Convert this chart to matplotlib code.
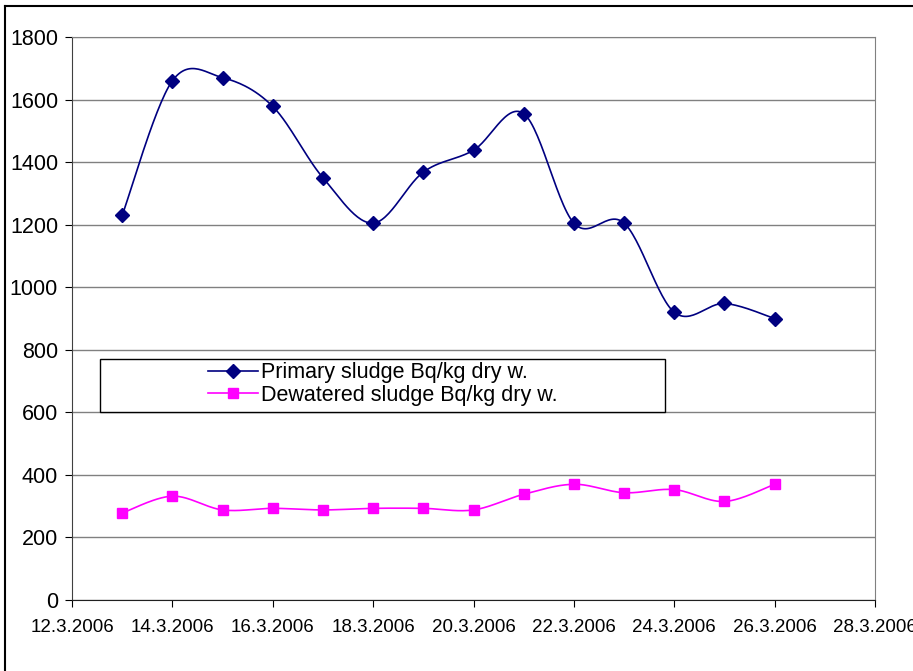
import matplotlib
matplotlib.use("Agg")
import matplotlib.pyplot as plt
import matplotlib.dates as mdates
import numpy as np
import pandas as pd
from matplotlib.lines import Line2D
from matplotlib.patches import Rectangle

plt.rcParams['font.family'] = ['Liberation Sans', 'DejaVu Sans']

dates = ['13.3.2006', '14.3.2006', '15.3.2006', '16.3.2006', '17.3.2006', '18.3.2006', '19.3.2006',
         '20.3.2006', '21.3.2006', '22.3.2006', '23.3.2006', '24.3.2006', '25.3.2006', '26.3.2006']
primary = [1230, 1660, 1670, 1578, 1350, 1205, 1368, 1438, 1555, 1205, 1205, 920, 948, 900]
dewatered = [278, 332, 288, 293, 288, 293, 293, 288, 338, 370, 343, 353, 315, 370]
tick_dates = ['12.3.2006', '14.3.2006', '16.3.2006', '18.3.2006', '20.3.2006',
              '22.3.2006', '24.3.2006', '26.3.2006', '28.3.2006']


def smooth(x, y, n=30):
    # excel style smoothed line (catmull-rom through the points)
    x = np.asarray(x, float)
    y = np.asarray(y, float)
    px = np.concatenate([[x[0]], x, [x[-1]]])
    py = np.concatenate([[y[0]], y, [y[-1]]])
    xs, ys = [], []
    t = np.linspace(0, 1, n)
    for i in range(1, len(px) - 2):
        for p, out in ((px, xs), (py, ys)):
            p0, p1, p2, p3 = p[i - 1], p[i], p[i + 1], p[i + 2]
            c1 = p1 + (p2 - p0) / 6
            c2 = p2 - (p3 - p1) / 6
            out.append((1 - t) ** 3 * p1 + 3 * (1 - t) ** 2 * t * c1 + 3 * (1 - t) * t ** 2 * c2 + t ** 3 * p2)
    return np.concatenate(xs), np.concatenate(ys)


x = mdates.date2num(pd.to_datetime(dates, format='%d.%m.%Y'))
ticks = mdates.date2num(pd.to_datetime(tick_dates, format='%d.%m.%Y'))

fig = plt.figure(figsize=(9.13, 6.71), dpi=100)
ax = fig.add_axes([72 / 913, 71 / 671, 803 / 913, 563 / 671])

sx, sy = smooth(x, primary)
ax.plot(sx, sy, color='#000080', lw=1.2)
ax.plot(x, primary, 'D', color='#000080', ms=7, ls='none')
sx, sy = smooth(x, dewatered)
ax.plot(sx, sy, color='#FF00FF', lw=1.2)
ax.plot(x, dewatered, 's', color='#FF00FF', ms=7, ls='none')

ax.set_xlim(ticks[0], ticks[-1])
ax.set_ylim(0, 1800)
ax.set_yticks(np.arange(0, 1801, 200))
ax.set_xticks(ticks)
ax.set_xticklabels(tick_dates, fontsize=13.5)
ax.tick_params(axis='y', labelsize=15.5, length=5, direction='out', pad=5)
ax.tick_params(axis='x', length=5, direction='out', pad=9)
ax.grid(axis='y', color='#808080', lw=1)
for s in ['top', 'right']:
    ax.spines[s].set_color('#808080')
ax.spines['left'].set_color('#404040')
ax.spines['bottom'].set_color('#202020')

# legend box
ax.add_patch(Rectangle((28 / 803, 188 / 563), 565 / 803, 53 / 563, transform=ax.transAxes,
                       facecolor='white', edgecolor='black', lw=1, zorder=3))
h1 = Line2D([], [], color='#000080', marker='D', ms=7, lw=1.2)
h2 = Line2D([], [], color='#FF00FF', marker='s', ms=7, lw=1.2)
leg = ax.legend([h1, h2], ['Primary sludge Bq/kg dry w.', 'Dewatered sludge Bq/kg dry w.'],
                loc='center left', bbox_to_anchor=(136 / 803, 216 / 563),
                fontsize=15.5, frameon=False, borderpad=0, handlelength=2.3,
                handletextpad=0.15, labelspacing=0.05, borderaxespad=0)
leg.set_zorder(4)

# outer chart frame
fig.add_artist(plt.Line2D([5 / 913, 1], [1 - 6 / 671, 1 - 6 / 671], color='black', lw=1.5))
fig.add_artist(plt.Line2D([5 / 913, 5 / 913], [0, 1 - 6 / 671], color='black', lw=1.5))

fig.savefig('out.png', dpi=100)
